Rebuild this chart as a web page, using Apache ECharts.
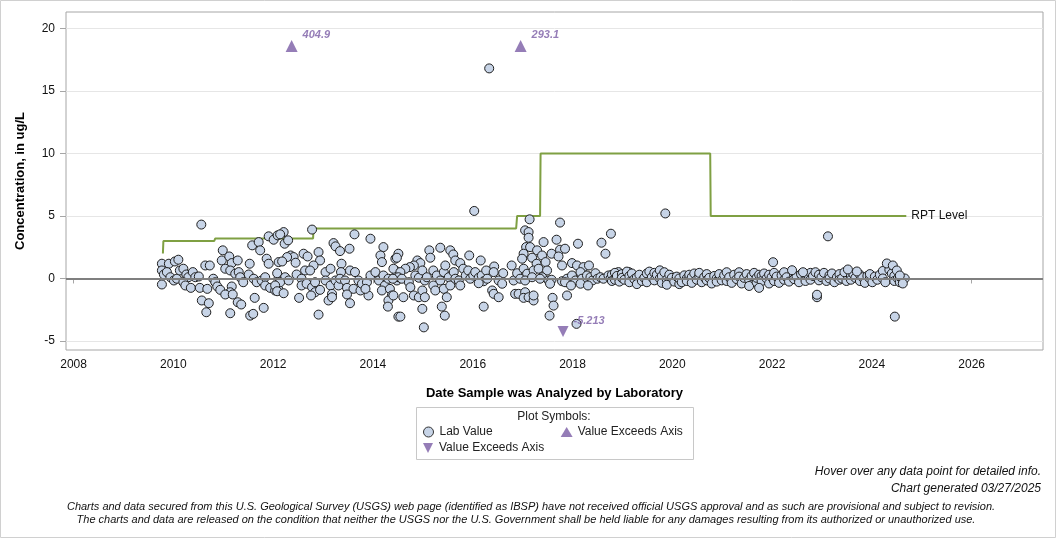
<!DOCTYPE html>
<html><head><meta charset="utf-8">
<script src="https://cdn.jsdelivr.net/npm/echarts@6/dist/echarts.min.js"></script>
<style>html,body{margin:0;padding:0;background:#fff}#c{width:1056px;height:538px}</style>
</head><body><div id="c"></div>
<script>
// ---- DATA (decimal year, concentration ug/L) ----
const xTickYears = [2008, 2010, 2012, 2014, 2016, 2018, 2020, 2022, 2024, 2026];
const yTickValues = [-5, 0, 5, 10, 15, 20];

const labSamples = [
[2009.77,1.18],[2009.91,1.18],[2010.03,1.36],[2010.10,1.50],[2009.77,0.64],[2009.81,0.32],[2009.87,0.51],[2009.94,0.10],
[2010.01,-0.16],[2010.07,-0.02],[2010.13,0.64],[2010.20,0.78],[2010.26,0.32],[2010.30,0.10],[2010.39,0.51],[2010.44,0.10],
[2010.51,0.16],[2009.77,-0.48],[2010.20,-0.30],[2010.24,-0.56],[2010.35,-0.75],[2010.53,-0.75],[2010.68,-0.83],[2010.64,1.04],
[2010.73,1.04],[2010.80,-0.02],[2010.84,-0.30],[2010.88,-0.64],[2010.94,-0.91],[2010.97,1.44],[2010.99,2.25],[2011.12,1.76],
[2011.17,1.23],[2011.29,1.44],[2011.04,0.78],[2011.14,0.64],[2011.24,0.38],[2011.31,0.51],[2011.34,0.10],[2011.40,-0.30],
[2011.17,-0.64],[2011.14,-1.10],[2011.04,-1.28],[2011.19,-1.28],[2011.29,-1.90],[2011.36,-2.08],[2011.14,-2.78],[2010.57,-1.76],
[2010.71,-1.98],[2010.66,-2.70],[2011.53,1.18],[2011.58,2.65],[2011.71,2.91],[2011.74,2.25],[2011.63,-1.55],[2011.54,-2.97],
[2011.60,-2.83],[2011.81,-2.35],[2011.51,0.32],[2011.61,-0.02],[2011.67,-0.30],[2011.77,-0.16],[2011.84,0.10],[2011.87,1.58],
[2011.91,1.18],[2011.84,-0.56],[2011.94,-0.75],[2012.04,-0.96],[2011.91,3.37],[2012.01,3.10],[2012.09,3.45],[2012.11,1.31],
[2012.11,0.06],[2012.11,-0.91],[2010.56,4.31],
[2012.21,3.71],[2012.14,3.53],[2012.23,2.78],[2012.30,3.05],[2012.78,3.91],[2013.21,2.83],[2013.25,2.57],[2013.34,2.19],
[2013.53,2.38],[2013.63,3.53],[2013.95,3.18],[2014.21,2.51],[2014.15,1.84],[2014.18,1.31],[2014.45,1.58],[2014.51,1.98],
[2012.35,1.84],[2012.41,1.71],[2012.28,1.71],[2012.45,1.26],[2012.18,1.36],[2012.61,1.98],[2012.69,1.76],[2012.91,2.11],
[2012.94,1.44],[2012.81,1.04],[2012.64,0.64],[2012.74,0.64],[2013.05,0.51],[2013.15,0.78],[2013.37,1.18],[2013.36,0.51],
[2013.54,0.64],[2013.64,0.51],[2012.08,0.42],[2012.24,0.10],[2012.14,-0.30],[2012.04,-0.56],[2012.08,-1.02],[2012.21,-1.18],
[2012.31,-0.16],[2012.47,0.32],[2012.57,-0.02],[2012.57,-0.56],[2012.67,-0.42],[2012.78,-0.70],[2012.84,-0.30],[2012.84,-1.10],
[2012.94,-0.91],[2013.05,-0.16],[2013.15,-0.56],[2013.18,-1.23],[2013.25,-0.16],[2013.31,-0.56],[2013.34,-0.02],[2013.44,-0.16],
[2013.48,-0.75],[2013.61,-0.83],[2013.71,-0.16],[2013.75,-0.96],[2013.78,-0.42],[2013.88,-0.30],[2013.95,0.24],[2013.91,-1.36],
[2013.85,-0.83],[2014.05,0.51],[2014.12,-0.16],[2014.21,0.24],[2014.24,-0.56],[2014.18,-0.96],[2014.31,-0.02],[2014.34,-0.83],
[2014.38,-1.36],[2014.31,-1.76],[2014.45,0.64],[2014.48,-0.16],[2012.52,-1.55],[2012.76,-1.36],[2013.11,-1.76],[2013.18,-1.50],
[2013.48,-1.28],[2013.54,-1.98],[2012.91,-2.89],[2014.30,-2.25],[2014.51,-3.05],
[2016.03,5.40],[2014.48,1.66],[2014.41,0.78],[2015.13,2.25],[2015.15,1.66],[2015.35,2.46],[2015.55,2.25],[2015.61,1.92],
[2015.65,1.44],[2015.75,1.23],[2015.93,1.84],[2016.16,1.44],[2016.43,0.96],[2016.61,0.42],[2016.78,1.04],[2014.89,1.44],
[2014.95,1.23],[2014.82,1.04],[2014.74,0.91],[2014.65,0.78],[2014.55,0.51],[2014.51,0.10],[2014.58,-0.02],[2014.40,-0.02],
[2014.72,-0.30],[2014.75,-0.70],[2014.85,0.24],[2014.92,0.06],[2014.99,0.64],[2015.04,-0.16],[2015.08,0.10],[2015.21,0.64],
[2015.28,0.24],[2015.21,-0.56],[2015.25,-0.96],[2015.35,-0.16],[2015.42,0.51],[2015.42,-0.83],[2015.48,-1.50],[2015.45,1.04],
[2015.52,0.10],[2015.55,-0.56],[2015.62,0.51],[2015.65,-0.02],[2015.72,-0.16],[2015.75,-0.56],[2015.81,0.78],[2015.86,0.24],
[2015.91,0.64],[2015.95,-0.02],[2016.01,0.24],[2016.05,0.51],[2016.12,0.06],[2016.18,0.24],[2016.22,-0.22],[2016.27,0.64],
[2016.29,-0.02],[2016.12,-0.38],[2016.42,0.51],[2016.52,-0.16],[2016.39,-0.96],[2016.42,-1.23],[2016.52,-1.50],[2016.59,-0.42],
[2016.82,-0.16],[2016.85,-1.23],[2014.41,-1.36],[2014.61,-1.50],[2014.82,-1.36],[2014.92,-1.50],[2014.99,-0.96],[2015.04,-1.50],
[2014.99,-2.43],[2015.38,-2.25],[2015.44,-2.97],[2016.22,-2.25],[2014.55,-3.05],[2015.02,-3.91],[2016.33,16.8],
[2017.75,4.47],[2017.14,4.73],[2017.05,3.85],[2017.12,3.71],[2017.12,3.26],[2017.68,3.10],[2017.42,2.91],[2018.11,2.78],
[2018.58,2.86],[2018.77,3.58],[2018.66,1.98],[2017.07,2.51],[2017.15,2.51],[2017.29,2.25],[2017.39,1.84],[2017.58,1.98],
[2017.75,2.30],[2017.85,2.38],[2017.72,1.76],[2017.02,1.98],[2016.99,1.58],[2017.19,1.66],[2017.28,1.18],[2017.46,1.31],
[2017.79,1.04],[2017.99,1.23],[2018.09,1.04],[2018.22,0.91],[2018.33,1.04],[2016.89,0.42],[2017.02,0.78],[2017.09,0.38],
[2017.22,0.64],[2017.32,0.78],[2017.49,0.64],[2017.39,0.10],[2016.95,-0.02],[2017.05,-0.16],[2017.19,0.10],[2017.35,-0.02],
[2017.52,-0.16],[2017.58,-0.10],[2017.79,-0.22],[2017.89,-0.02],[2017.99,0.24],[2018.06,-0.16],[2018.16,0.51],[2018.19,-0.02],
[2018.26,-0.30],[2018.29,0.24],[2018.36,0.10],[2018.40,-0.16],[2018.46,0.42],[2018.50,-0.02],[2018.56,0.10],[2018.62,-0.02],
[2018.72,0.24],[2018.76,-0.02],[2018.82,0.10],[2018.92,0.51],[2018.96,0.24],[2019.06,0.10],[2019.13,0.51],[2017.55,-0.42],
[2017.85,-0.30],[2017.97,-0.56],[2018.16,-0.42],[2018.31,-0.56],[2016.92,-1.23],[2017.05,-1.10],[2017.02,-1.55],[2017.12,-1.50],
[2017.22,-1.76],[2017.22,-1.36],[2017.60,-1.55],[2017.62,-2.17],[2017.89,-1.36],[2017.54,-2.97],[2018.08,-3.63],
[2018.79,0.3],[2018.79,-0.2],[2018.85,0.45],[2018.85,-0.1],[2018.89,0.2],[2018.94,-0.25],[2018.99,0.35],[2018.99,0.05],
[2019.04,-0.1],[2019.09,0.55],[2019.14,0.2],[2019.14,-0.3],[2019.19,0.4],[2019.24,-0.05],[2019.29,0.1],[2019.29,-0.45],
[2019.34,0.3],[2019.39,-0.2],[2019.44,0.05],[2019.49,0.4],[2019.49,-0.3],[2019.54,0.55],[2019.59,0.1],[2019.64,0.45],
[2019.64,-0.15],[2019.69,0.3],[2019.75,0.65],[2019.75,0.0],[2019.79,0.2],[2019.79,-0.35],[2019.84,0.5],[2019.89,-0.1],
[2019.89,-0.5],[2019.94,0.3],[2019.99,0.05],[2020.04,-0.25],[2020.09,0.15],[2020.14,-0.45],[2020.14,0.0],[2020.19,-0.3],
[2020.24,0.25],[2020.29,0.0],[2020.29,-0.2],[2020.34,0.3],[2020.39,0.1],[2020.39,-0.35],[2020.44,0.4],[2020.49,-0.1],
[2020.54,0.2],[2020.54,0.45],[2020.59,-0.3],[2020.64,0.1],[2020.69,0.35],[2020.69,-0.15],[2020.74,0.05],[2020.79,-0.4],
[2020.84,0.2],[2020.89,0.0],[2020.89,-0.25],[2020.94,0.35],[2020.99,-0.15],[2021.04,0.25],[2021.09,0.5],[2021.09,-0.2],
[2021.14,0.1],[2021.19,-0.35],[2021.24,0.3],[2021.29,-0.05],[2021.34,0.5],[2021.34,0.15],[2021.39,-0.4],[2021.44,0.05],
[2021.49,0.35],[2021.54,-0.1],[2021.54,-0.6],[2021.59,0.2],[2021.64,0.45],[2021.69,-0.3],[2021.69,0.05],[2021.74,0.3],
[2019.86,5.2],
[2021.79,0.2],[2021.79,-0.2],[2021.84,0.4],[2021.89,0.0],[2021.94,0.3],[2021.94,-0.4],[2021.99,0.1],[2022.04,-0.2],
[2022.04,0.45],[2022.09,0.15],[2022.14,-0.35],[2022.19,0.25],[2022.24,-0.1],[2022.24,0.5],[2022.29,0.1],[2022.34,-0.25],
[2022.44,0.3],[2022.44,-0.05],[2022.49,0.15],[2022.54,-0.3],[2022.58,0.35],[2022.67,0.0],[2022.67,-0.2],[2022.72,0.3],
[2022.77,0.45],[2022.77,-0.1],[2022.82,0.2],[2022.87,0.5],[2022.94,-0.15],[2022.94,0.3],[2022.99,0.1],[2023.04,0.45],
[2023.09,-0.2],[2023.15,0.25],[2023.15,0.0],[2023.20,0.4],[2023.25,-0.3],[2023.30,0.1],[2023.35,0.35],[2023.35,-0.1],
[2023.40,0.0],[2023.45,0.5],[2023.49,-0.2],[2023.58,0.2],[2023.58,-0.1],[2023.63,0.35],[2023.67,0.05],[2023.76,-0.2],
[2023.76,0.3],[2023.81,0.1],[2023.86,-0.35],[2023.91,0.2],[2023.96,0.0],[2023.96,0.35],[2024.01,-0.3],[2024.06,0.15],
[2024.11,-0.1],[2024.16,0.3],[2024.22,0.6],[2024.22,0.0],[2024.27,-0.3],[2024.35,0.7],[2024.40,0.4],[2024.45,0.2],
[2024.45,-0.2],[2024.52,0.0],[2024.56,-0.3],[2024.56,0.15],[2024.62,-0.1],[2024.66,0.0],
[2021.74,-0.75],[2022.02,1.3],[2022.40,0.66],[2022.62,0.5],[2022.90,-1.5],[2022.90,-1.3],[2023.12,3.37],[2023.52,0.72],
[2023.70,0.56],[2024.30,1.2],[2024.42,1.04],[2024.50,0.64],[2024.46,-3.05],[2024.56,0.24],[2024.62,-0.4]
];

// values above / below axis range: date, true value
const exceedUpDates = [2012.37, 2016.96];
const exceedUpValues = [404.9, 293.1];
const exceedDownDates = [2017.81];
const exceedDownValues = [-5.213];
const EXCEED_UP_POS = 18.6, EXCEED_DOWN_POS = -4.25;

// RPT level step line
const rptDates  = [2009.79, 2009.80, 2010.82, 2010.84, 2012.80, 2012.81, 2016.87, 2016.89, 2017.35, 2017.36, 2020.76, 2020.77, 2024.69];
const rptValues = [2, 3, 3, 3.2, 3.2, 4, 4, 5, 5, 10, 10, 5, 5];

// ---- CHART ----
const FONT = "'Liberation Sans', Arial, sans-serif";
const NARROW = "'Liberation Sans Narrow', 'Arial Narrow', sans-serif";
const PURPLE = '#7b5ca5';
const chart = echarts.init(document.getElementById('c'), null, {renderer: 'canvas'});

const option = {
  animation: false,
  backgroundColor: '#fff',
  textStyle: {fontFamily: FONT},
  grid: {left: 66, top: 12, right: 13, bottom: 188, show: true, borderColor: '#a6a6a6', borderWidth: 1, backgroundColor: 'transparent'},
  xAxis: {
    type: 'value', min: 2007.848, max: 2027.43,
    name: 'Date Sample was Analyzed by Laboratory', nameLocation: 'middle', nameGap: 37,
    nameTextStyle: {fontSize: 13, fontWeight: 'bold', color: '#000', fontFamily: FONT},
    axisLine: {show: false},
    axisTick: {show: true, length: 5, lineStyle: {color: '#a6a6a6'}, customValues: xTickYears},
    axisLabel: {customValues: xTickYears, fontSize: 12, color: '#111', margin: 9, formatter: v => String(v)},
    splitLine: {show: false}
  },
  yAxis: {
    type: 'value', min: -5.72, max: 21.31,
    name: 'Concentration, in ug/L', nameLocation: 'middle', nameGap: 39, nameRotate: 90,
    nameTextStyle: {fontSize: 13, fontWeight: 'bold', color: '#000', fontFamily: FONT},
    axisLine: {show: false},
    axisTick: {show: true, length: 6, lineStyle: {color: '#a6a6a6'}, customValues: yTickValues},
    axisLabel: {customValues: yTickValues, fontSize: 12, color: '#111', margin: 11},
    splitLine: {show: true, lineStyle: {color: '#e6e6e6', width: 1}}
  },
  legend: [
    {left: 423, top: 426, itemWidth: 12, itemHeight: 10, itemGap: 68, padding: 0,
     textStyle: {fontSize: 12, color: '#222', fontFamily: FONT},
     data: [{name: 'Lab Value', itemStyle: {borderWidth: 1, borderColor: '#333'}}, 'Value Exceeds Axis'], selectedMode: false},
    {left: 423, top: 442, itemWidth: 12, itemHeight: 10, padding: 0,
     textStyle: {fontSize: 12, color: '#222', fontFamily: FONT},
     data: ['Value Exceeds Axis (low)'], formatter: () => 'Value Exceeds Axis', selectedMode: false}
  ],
  graphic: [
    {type: 'rect', shape: {x: 0.5, y: 0.5, width: 1055, height: 537}, style: {fill: 'none', stroke: '#d0d0d0', lineWidth: 1}, silent: true},
    {type: 'rect', shape: {x: 416.5, y: 407.5, width: 277, height: 52}, style: {fill: 'none', stroke: '#c8c8c8', lineWidth: 1}, silent: true, z: -1},
    {type: 'text', x: 554, y: 417, style: {text: 'Plot Symbols:', font: '12px ' + FONT, fill: '#222', align: 'center', verticalAlign: 'middle'}},
    {type: 'text', x: 1041, y: 472, style: {text: 'Hover over any data point for detailed info.', font: 'italic 12px ' + NARROW, fill: '#111', align: 'right', verticalAlign: 'middle'}},
    {type: 'text', x: 1041, y: 489, style: {text: 'Chart generated 03/27/2025', font: 'italic 12px ' + NARROW, fill: '#111', align: 'right', verticalAlign: 'middle'}},
    {type: 'text', x: 531, y: 507, style: {text: 'Charts and data secured from this U.S. Geological Survey (USGS) web page (identified as IBSP) have not received official USGS approval and as such are provisional and subject to revision.', font: 'italic 11px ' + NARROW, fill: '#111', align: 'center', verticalAlign: 'middle'}},
    {type: 'text', x: 526, y: 520, style: {text: 'The charts and data are released on the condition that neither the USGS nor the U.S. Government shall be held liable for any damages resulting from its authorized or unauthorized use.', font: 'italic 11px ' + NARROW, fill: '#111', align: 'center', verticalAlign: 'middle'}}
  ],
  series: [
    {
      name: 'RPT Level', type: 'line', z: 2,
      data: rptDates.map((d, i) => [d, rptValues[i]]),
      showSymbol: false, symbol: 'none',
      lineStyle: {color: '#7fa043', width: 2},
      itemStyle: {color: '#7fa043'},
      endLabel: {show: true, formatter: 'RPT Level', fontSize: 12, color: '#111', distance: 5, fontFamily: FONT},
      markLine: {silent: true, symbol: 'none', label: {show: false}, lineStyle: {color: '#7f7f7f', width: 2, type: 'solid'}, data: [{yAxis: 0}]},
      silent: true
    },
    {
      name: 'Lab Value', type: 'scatter', z: 3,
      data: labSamples, symbol: 'circle', symbolSize: 9,
      itemStyle: {color: '#c7d4e7', borderColor: '#1e1e1e', borderWidth: 1, opacity: 1}
    },
    {
      name: 'Value Exceeds Axis', type: 'scatter', z: 4,
      data: exceedUpDates.map((d, i) => [d, EXCEED_UP_POS, exceedUpValues[i]]),
      symbol: 'triangle', symbolSize: 12,
      itemStyle: {color: PURPLE},
      label: {show: true, position: 'right', distance: 5, offset: [0, -11], formatter: p => p.value[2].toFixed(1),
              fontSize: 11, fontWeight: 'bold', fontStyle: 'italic', color: PURPLE, fontFamily: FONT}
    },
    {
      name: 'Value Exceeds Axis (low)', type: 'scatter', z: 4,
      data: exceedDownDates.map((d, i) => [d, EXCEED_DOWN_POS, exceedDownValues[i]]),
      symbol: 'path://M0,0 L10,0 L5,10 Z', symbolSize: 11,
      itemStyle: {color: PURPLE},
      label: {show: true, position: 'right', distance: 5, offset: [0, -11], formatter: p => String(p.value[2]),
              fontSize: 11, fontWeight: 'bold', fontStyle: 'italic', color: PURPLE, fontFamily: FONT}
    }
  ]
};
chart.setOption(option);
</script></body></html>
